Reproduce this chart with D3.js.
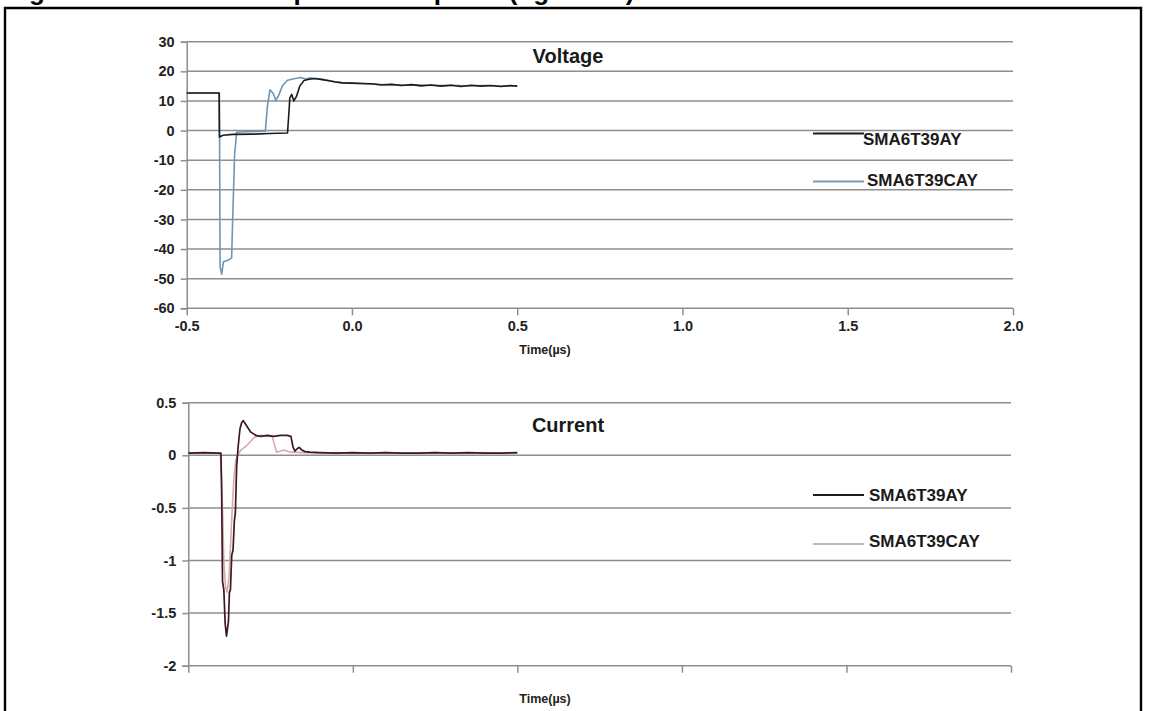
<!DOCTYPE html>
<html>
<head>
<meta charset="utf-8">
<script src="https://cdn.jsdelivr.net/npm/d3@7"></script>
<style>
  body { margin: 0; background: #fff; }
  svg { display: block; font-family: "Liberation Sans", Arial, sans-serif; }
  .tick text { font-weight: bold; fill: #222; }
</style>
</head>
<body>
<svg id="chart" width="1153" height="711"></svg>
<script>
// ---- data ----
const xTicks = [-0.5, 0.0, 0.5, 1.0, 1.5, 2.0];
const voltTicks = [30, 20, 10, 0, -10, -20, -30, -40, -50, -60];
const currTicks = [0.5, 0, -0.5, -1, -1.5, -2];
const seriesNames = ["SMA6T39AY", "SMA6T39CAY"];

// Voltage, SMA6T39AY (black)
const voltAyTime = [-0.5, -0.402, -0.401, -0.39, -0.36, -0.30, -0.25, -0.195, -0.192, -0.188, -0.182,
  -0.176, -0.168, -0.158, -0.145, -0.13, -0.11, -0.09, -0.07, -0.05, -0.03, 0.0, 0.03, 0.06, 0.09,
  0.12, 0.15, 0.18, 0.21, 0.24, 0.27, 0.30, 0.33, 0.36, 0.39, 0.42, 0.45, 0.48, 0.50];
const voltAy = [12.7, 12.7, -2.2, -1.6, -1.3, -1.2, -1.0, -0.8, 4.0, 11.0, 12.2,
  10.0, 11.5, 15.0, 16.9, 17.3, 17.6, 17.2, 16.8, 16.4, 16.1, 16.0, 15.9, 15.8, 15.4,
  15.6, 15.2, 15.5, 15.1, 15.4, 15.0, 15.3, 14.9, 15.3, 15.0, 15.2, 14.9, 15.2, 15.0];

// Voltage, SMA6T39CAY (steel blue)
const voltCayTime = [-0.5, -0.401, -0.399, -0.394, -0.389, -0.375, -0.364, -0.361, -0.355, -0.349,
  -0.34, -0.32, -0.29, -0.262, -0.256, -0.248, -0.238, -0.23, -0.222, -0.21, -0.195, -0.175, -0.155,
  -0.14, -0.125, -0.11, -0.09, -0.07, -0.05, -0.03, 0.0, 0.04, 0.08, 0.12, 0.16, 0.20, 0.25, 0.30,
  0.35, 0.40, 0.45, 0.50];
const voltCay = [12.7, 12.7, -46.0, -48.5, -44.3, -43.8, -43.0, -30.0, -8.0, -0.6,
  -0.5, -0.4, -0.3, -0.2, 8.0, 13.8, 12.5, 10.2, 11.8, 15.2, 17.0, 17.5, 17.9,
  17.4, 17.8, 17.5, 17.3, 16.9, 16.5, 16.2, 16.0, 15.8, 15.6, 15.5, 15.3, 15.4, 15.2, 15.3,
  15.1, 15.2, 15.0, 15.1];

// Current, SMA6T39AY (dark maroon)
const currAyTime = [-0.5, -0.45, -0.41, -0.401, -0.399, -0.396, -0.392, -0.388, -0.384, -0.381,
  -0.378, -0.375, -0.372, -0.368, -0.364, -0.36, -0.357, -0.353, -0.348, -0.343, -0.338, -0.333,
  -0.325, -0.31, -0.295, -0.28, -0.26, -0.24, -0.22, -0.20, -0.188, -0.182, -0.176, -0.17, -0.163,
  -0.155, -0.145, -0.13, -0.10, -0.05, 0.0, 0.05, 0.10, 0.15, 0.20, 0.25, 0.30, 0.35, 0.40, 0.45, 0.50];
const currAy = [0.02, 0.025, 0.02, 0.02, -0.25, -1.2, -1.28, -1.6, -1.72, -1.65,
  -1.58, -1.3, -1.28, -0.95, -0.9, -0.62, -0.55, -0.1, 0.1, 0.25, 0.31, 0.33,
  0.29, 0.22, 0.19, 0.18, 0.19, 0.18, 0.19, 0.19, 0.18, 0.08, 0.04, 0.06, 0.075,
  0.05, 0.035, 0.03, 0.025, 0.02, 0.025, 0.02, 0.025, 0.02, 0.02, 0.025, 0.02, 0.025, 0.02, 0.02, 0.025];

// Current, SMA6T39CAY (light pink-grey)
const currCayTime = [-0.5, -0.45, -0.402, -0.40, -0.396, -0.392, -0.387, -0.382, -0.376, -0.368,
  -0.362, -0.356, -0.35, -0.34, -0.32, -0.30, -0.28, -0.26, -0.245, -0.238, -0.232, -0.22, -0.21,
  -0.19, -0.15, -0.10, -0.05, 0.0, 0.05, 0.10, 0.15, 0.20, 0.25, 0.30, 0.35, 0.40, 0.45, 0.50];
const currCay = [0.02, 0.02, 0.02, -0.22, -0.5, -1.0, -1.25, -1.3, -1.15, -0.6,
  -0.25, -0.05, 0.0, 0.05, 0.1, 0.17, 0.19, 0.18, 0.18, 0.1, 0.03, 0.04, 0.05,
  0.03, 0.025, 0.02, 0.025, 0.02, 0.02, 0.025, 0.02, 0.02, 0.025, 0.02, 0.02, 0.025, 0.02, 0.02];

const svg = d3.select("#chart");

// plain hyphen instead of d3's unicode minus
const hyphen = f => d => f(d).replace("\u2212", "-");

// Caption above the frame (cut off in the picture)
svg.append("text")
  .attr("x", 6)
  .attr("y", -0.5)
  .style("font-size", "26px")
  .style("font-weight", "bold")
  .attr("fill", "#000")
  .text("Figure 8. Behavior comparison on pulse (figure 7a)");

// Frame
svg.append("path")
  .attr("d", "M5,720 V8 H1141 V720")
  .attr("fill", "none")
  .attr("stroke", "#000")
  .attr("stroke-width", 2.4);

function drawPanel(opt) {
  const g = svg.append("g");
  const x = d3.scaleLinear().domain([-0.5, 2.0]).range([opt.x0, opt.x1]);
  const y = d3.scaleLinear().domain(opt.yDomain).range([opt.yBottom, opt.yTop]);

  // horizontal gridlines
  g.selectAll(".grid")
    .data(opt.yTicks)
    .enter()
    .append("line")
    .attr("x1", opt.x0)
    .attr("x2", opt.x1)
    .attr("y1", d => y(d))
    .attr("y2", d => y(d))
    .attr("stroke", "#8e8e8e")
    .attr("stroke-width", 1.5);

  // left axis
  const yAxis = g.append("g")
    .attr("transform", `translate(${opt.x0},0)`)
    .call(d3.axisLeft(y).tickValues(opt.yTicks).tickSize(6).tickPadding(6).tickFormat(opt.yFormat));
  yAxis.select(".domain").attr("stroke", "#8e8e8e").attr("stroke-width", 1.5);
  yAxis.selectAll(".tick line").attr("stroke", "#8e8e8e").attr("stroke-width", 1.5);
  yAxis.selectAll(".tick text").style("font-size", "14.5px");

  // bottom axis
  const xAxis = g.append("g")
    .attr("transform", `translate(0,${opt.yBottom})`)
    .call(d3.axisBottom(x).tickValues(xTicks).tickSize(7).tickPadding(5).tickFormat(opt.xFormat));
  xAxis.select(".domain").remove();
  xAxis.selectAll(".tick line").attr("stroke", "#8e8e8e").attr("stroke-width", 1.5);
  xAxis.selectAll(".tick text").style("font-size", "14.5px");

  // axis title
  g.append("text")
    .attr("x", 545)
    .attr("y", opt.timeY)
    .attr("text-anchor", "middle")
    .style("font-size", "12.5px")
    .style("font-weight", "bold")
    .attr("fill", "#222")
    .text("Time(µs)");

  // panel title
  g.append("text")
    .attr("x", 568)
    .attr("y", opt.titleY)
    .attr("text-anchor", "middle")
    .style("font-size", "20px")
    .style("font-weight", "bold")
    .attr("fill", "#1a1a1a")
    .text(opt.title);

  const line = d3.line().x(d => x(d[0])).y(d => y(d[1]));

  // light series first, dark on top
  opt.series.slice().reverse().forEach(s => {
    g.append("path")
      .datum(d3.zip(s.t, s.v))
      .attr("d", line)
      .attr("fill", "none")
      .attr("stroke", s.color)
      .attr("stroke-width", s.width)
      .attr("stroke-linejoin", "round");
  });

  // legend
  opt.series.forEach((s, i) => {
    const ly = opt.legendY[i];
    g.append("line")
      .attr("x1", 813)
      .attr("x2", 864)
      .attr("y1", ly.line)
      .attr("y2", ly.line)
      .attr("stroke", s.legendColor)
      .attr("stroke-width", 1.8);
    g.append("text")
      .attr("x", ly.textX)
      .attr("y", ly.text)
      .style("font-size", "17px")
      .style("font-weight", "bold")
      .attr("fill", "#1a1a1a")
      .text(seriesNames[i]);
  });
}

drawPanel({
  x0: 186.7, x1: 1013, yTop: 41.7, yBottom: 308.3,
  yDomain: [-60, 30], yTicks: voltTicks,
  yFormat: hyphen(d3.format("d")), xFormat: hyphen(d3.format(".1f")),
  timeY: 354, titleY: 63, title: "Voltage",
  series: [
    {t: voltAyTime, v: voltAy, color: "#1c1c1c", legendColor: "#1c1c1c", width: 1.6},
    {t: voltCayTime, v: voltCay, color: "#6f95b6", legendColor: "#7d9bb2", width: 1.6}
  ],
  legendY: [{line: 133.5, text: 145, textX: 863}, {line: 181.5, text: 186, textX: 867}]
});

drawPanel({
  x0: 188.3, x1: 1011, yTop: 402.7, yBottom: 665.7,
  yDomain: [-2, 0.5], yTicks: currTicks,
  yFormat: d => String(d), xFormat: () => "",
  timeY: 703, titleY: 432, title: "Current",
  series: [
    {t: currAyTime, v: currAy, color: "#3d1a1e", legendColor: "#1c1c1c", width: 1.7},
    {t: currCayTime, v: currCay, color: "#d8a9ad", legendColor: "#b8b8b8", width: 1.6}
  ],
  legendY: [{line: 495, text: 501, textX: 869}, {line: 544, text: 547, textX: 869}]
});
</script>
</body>
</html>
